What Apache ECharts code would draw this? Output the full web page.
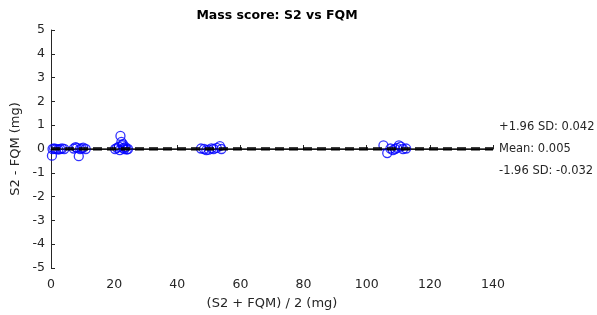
<!doctype html>
<html>
<head>
<meta charset="utf-8">
<title>Mass score: S2 vs FQM</title>
<script src="https://cdn.jsdelivr.net/npm/echarts@6/dist/echarts.min.js"></script>
</head>
<body style="margin:0;background:#fff;">
<div id="container" style="width:597px;height:315px;"></div>
<script type="text/javascript">
    // 均值 (S2+FQM)/2
    var avgVals = [0.3, 0.5, 1.0, 1.6, 2.3, 2.9, 3.5, 4.2,
        7.2, 7.8, 8.2, 8.8, 9.2, 9.7, 10.2, 11,
        20.3, 20.9, 21.5, 22, 22.3, 22.6, 22.9, 23.2, 23.6, 24.0, 24.4, 21.8, 22.8,
        47.5, 48.5, 49.2, 50, 50.8, 51.5, 52.5, 53.5, 54,
        105.3, 106.5, 107.5, 108.3, 109, 109.6, 110.2, 110.8, 111.5, 112.5];
    // 差值 S2-FQM
    var diffVals = [-0.28, 0, 0.02, 0, -0.02, 0, 0.03, 0,
        0.02, 0.08, 0.05, -0.3, 0, 0.03, 0.06, 0,
        0, 0.05, 0.1, 0.55, 0.3, 0.15, 0.05, 0, 0.08, -0.02, 0, -0.05, 0.2,
        0.02, 0, -0.05, -0.03, 0.03, 0, 0.05, 0.12, 0,
        0.15, -0.17, 0.02, -0.05, 0, 0.05, 0.15, 0.1, 0, 0.02];
    var meanDiff = 0.005;
    var upperSD = 0.042;
    var lowerSD = -0.032;
    var lineLabels = ['+1.96 SD: 0.042', 'Mean: 0.005', '-1.96 SD: -0.032'];

    var points = [];
    for (var i = 0; i < avgVals.length; i++) {
        points.push([avgVals[i], diffVals[i]]);
    }

    var font = 'DejaVu Sans';
    var option = {
        animation: false,
        title: {
            text: 'Mass score: S2 vs FQM',
            left: 272, top: 4, textAlign: 'center',
            textStyle: { fontFamily: font, fontSize: 12.5, fontWeight: 'bold', color: '#000' }
        },
        grid: { left: 51, right: 104, top: 30, bottom: 47 },
        xAxis: {
            type: 'value', min: 0, max: 140, interval: 20,
            name: '(S2 + FQM) / 2 (mg)', nameLocation: 'middle', nameGap: 29,
            nameTextStyle: { fontFamily: font, fontSize: 13, color: '#262626' },
            axisLine: { lineStyle: { color: '#262626', width: 1 } },
            axisTick: { inside: true, length: 4, lineStyle: { color: '#262626' } },
            axisLabel: { fontFamily: font, fontSize: 12.5, color: '#262626', margin: 10 },
            splitLine: { show: false }
        },
        yAxis: {
            type: 'value', min: -5, max: 5, interval: 1,
            name: 'S2 - FQM (mg)', nameLocation: 'middle', nameGap: 27,
            nameTextStyle: { fontFamily: font, fontSize: 13, color: '#262626' },
            axisLine: { show: true, lineStyle: { color: '#262626', width: 1 } },
            axisTick: { show: true, inside: true, length: 4, lineStyle: { color: '#262626' } },
            axisLabel: { fontFamily: font, fontSize: 12.5, color: '#262626', margin: 6 },
            splitLine: { show: false }
        },
        series: [
            {
                type: 'scatter',
                data: points,
                symbol: 'circle',
                symbolSize: 9,
                itemStyle: { color: 'rgba(0,0,0,0)', borderColor: '#0000ff', borderWidth: 1.3 },
                z: 2
            },
            {
                type: 'line',
                data: [[0, meanDiff], [140, meanDiff]],
                symbol: 'none',
                lineStyle: { color: '#000', width: 1 },
                endLabel: {
                    show: true, formatter: lineLabels[1], distance: 6,
                    fontFamily: font, fontSize: 11.5, color: '#262626'
                },
                z: 3
            },
            {
                type: 'line',
                data: [[0, upperSD], [140, upperSD]],
                symbol: 'none',
                lineStyle: { color: '#000', width: 1.5, type: [9, 5] },
                endLabel: {
                    show: true, formatter: lineLabels[0], distance: 6, offset: [0, -21],
                    fontFamily: font, fontSize: 11.5, color: '#262626'
                },
                z: 3
            },
            {
                type: 'line',
                data: [[0, lowerSD], [140, lowerSD]],
                symbol: 'none',
                lineStyle: { color: '#000', width: 1.5, type: [9, 5] },
                endLabel: {
                    show: true, formatter: lineLabels[2], distance: 6, offset: [0, 21],
                    fontFamily: font, fontSize: 11.5, color: '#262626'
                },
                z: 3
            }
        ]
    };
    var myChart = echarts.init(document.getElementById('container'));
    myChart.setOption(option);
</script>
</body>
</html>
